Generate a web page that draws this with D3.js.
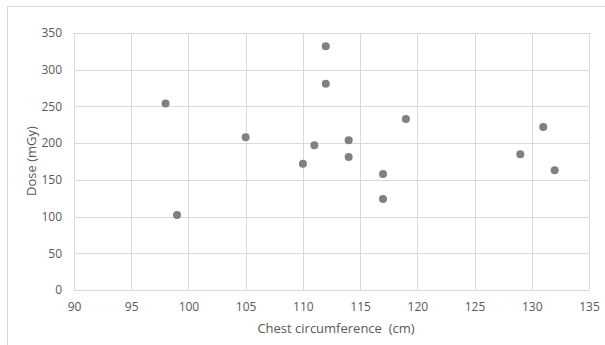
<!DOCTYPE html>
<html>
<head>
<meta charset="utf-8">
<script src="https://cdn.jsdelivr.net/npm/d3@7"></script>
<style>
  body { margin: 0; background: #fff; }
  text { font-family: "Open Sans", "Liberation Sans", sans-serif; fill: #595959; }
</style>
</head>
<body>
<svg id="chart" width="605" height="345"></svg>
<script>
// chest circumference (cm) vs dose (mGy)
const chest = [98, 99, 105, 110, 111, 112, 112, 114, 114, 117, 117, 119, 129, 131, 132];
const dose = [254, 102, 208, 172, 197, 332, 281, 204, 181, 158, 124, 233, 185, 222, 163];
const xTicks = [90, 95, 100, 105, 110, 115, 120, 125, 130, 135];
const yTicks = [0, 50, 100, 150, 200, 250, 300, 350];

const svg = d3.select("#chart");
const plotLeft = 74, plotRight = 589, plotTop = 33, plotBottom = 290;

const x = d3.scaleLinear().domain([90, 135]).range([plotLeft, plotRight]);
const y = d3.scaleLinear().domain([0, 350]).range([plotBottom, plotTop]);

// outer chart border (only top and left visible in frame)
svg.append("rect")
  .attr("x", 7.5).attr("y", 6.5)
  .attr("width", 640).attr("height", 400)
  .attr("fill", "none")
  .attr("stroke", "#d9d9d9")
  .attr("stroke-width", 1);

// gridlines
svg.append("g").selectAll("line").data(yTicks)
  .join("line")
  .attr("x1", plotLeft).attr("x2", plotRight)
  .attr("y1", d => Math.round(y(d)) + 0.5)
  .attr("y2", d => Math.round(y(d)) + 0.5)
  .attr("stroke", "#d9d9d9");

svg.append("g").selectAll("line").data(xTicks)
  .join("line")
  .attr("x1", d => Math.round(x(d)) + 0.5)
  .attr("x2", d => Math.round(x(d)) + 0.5)
  .attr("y1", plotTop).attr("y2", plotBottom)
  .attr("stroke", "#d9d9d9");

// axes (labels only)
const yAxis = svg.append("g")
  .attr("transform", `translate(${plotLeft},0)`)
  .call(d3.axisLeft(y).tickValues(yTicks).tickSize(0).tickPadding(12));
const xAxis = svg.append("g")
  .attr("transform", `translate(0,${plotBottom})`)
  .call(d3.axisBottom(x).tickValues(xTicks).tickSize(0).tickPadding(12));
[yAxis, xAxis].forEach(a => {
  a.select(".domain").remove();
  a.selectAll("text")
    .attr("font-size", 12)
    .attr("font-family", "'Open Sans', 'Liberation Sans', sans-serif")
    .attr("fill", "#595959");
});

// points
svg.append("g").selectAll("circle").data(chest)
  .join("circle")
  .attr("cx", (d) => x(d))
  .attr("cy", (d, i) => y(dose[i]))
  .attr("r", 4)
  .attr("fill", "#808080");

// axis titles
svg.append("text")
  .attr("x", 336).attr("y", 333)
  .attr("text-anchor", "middle")
  .attr("font-size", 13)
  .text("Chest circumference\u00a0 (cm)");

svg.append("text")
  .attr("transform", "translate(36,161) rotate(-90)")
  .attr("text-anchor", "middle")
  .attr("font-size", 13)
  .text("Dose (mGy)");
</script>
</body>
</html>
